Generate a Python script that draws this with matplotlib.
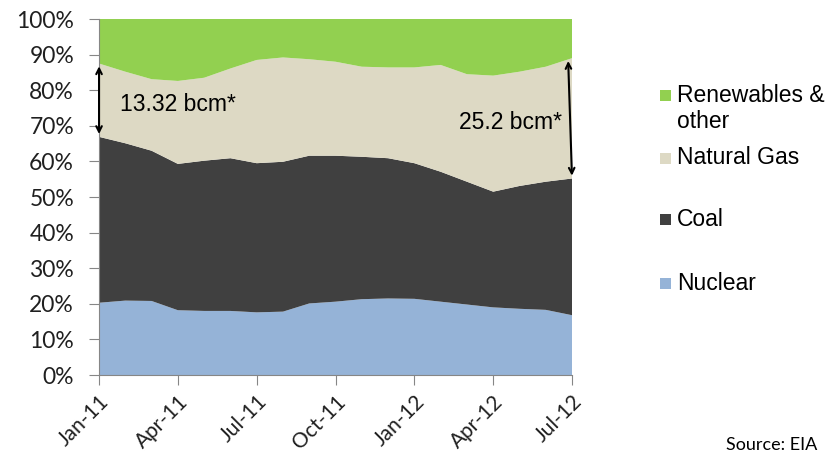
import numpy as np
import matplotlib.pyplot as plt
from matplotlib.patches import Rectangle

# share of generation, Jan-11 .. Jul-12 (monthly), % of total
months = ['Jan-11', 'Feb-11', 'Mar-11', 'Apr-11', 'May-11', 'Jun-11', 'Jul-11',
          'Aug-11', 'Sep-11', 'Oct-11', 'Nov-11', 'Dec-11', 'Jan-12', 'Feb-12',
          'Mar-12', 'Apr-12', 'May-12', 'Jun-12', 'Jul-12']
nuclear = [20.3, 20.9, 20.8, 18.2, 18.0, 18.0, 17.6, 17.8, 20.1, 20.6,
           21.3, 21.5, 21.4, 20.6, 19.8, 19.0, 18.6, 18.3, 16.8]
coal = [46.6, 44.2, 42.2, 41.1, 42.2, 42.9, 41.9, 42.1, 41.5, 41.0,
        40.0, 39.4, 38.1, 36.5, 34.5, 32.5, 34.5, 36.0, 38.4]
gas = [20.6, 20.1, 20.1, 23.3, 23.3, 25.2, 29.0, 29.3, 27.1, 26.4,
       25.3, 25.5, 26.9, 30.0, 30.2, 32.6, 32.1, 32.3, 33.8]
renew = [100 - (n + c + g) for n, c, g in zip(nuclear, coal, gas)]

series = ['Nuclear', 'Coal', 'Natural Gas', 'Renewables &\nother']
colors = ['#95B3D7', '#404040', '#DDD9C4', '#92D050']
tick_idx = [0, 3, 6, 9, 12, 15, 18]

x = np.arange(len(months))

fig = plt.figure(figsize=(8.4, 4.58), dpi=100)
ax = fig.add_axes([0.1179, 0.1812, 0.5631, 0.7773])
ax.stackplot(x, nuclear, coal, gas, renew, colors=colors, linewidth=0)

ax.set_xlim(0, 18)
ax.set_ylim(0, 100)
ax.set_yticks(range(0, 101, 10))
ax.set_yticklabels(['%d%%' % v for v in range(0, 101, 10)], fontsize=16.5, family='Lato')
ax.set_xticks(tick_idx)
ax.set_xticklabels([months[i] for i in tick_idx], rotation=45, ha='right',
                   rotation_mode='anchor', fontsize=15, family='Lato')
for s in ['top', 'right']:
    ax.spines[s].set_visible(False)
for s in ['left', 'bottom']:
    ax.spines[s].set_color('#868686')
ax.tick_params(colors='#868686', labelcolor='#202020', length=7)
ax.tick_params(axis='y', pad=11)
ax.tick_params(axis='x', pad=5)

# gas gap arrows
top0 = nuclear[0] + coal[0] + gas[0]
mid0 = nuclear[0] + coal[0]
top1 = nuclear[-1] + coal[-1] + gas[-1]
mid1 = nuclear[-1] + coal[-1]
ax.annotate('', xy=(0.0, mid0), xytext=(0.0, top0),
            arrowprops=dict(arrowstyle='<->', color='black', lw=1.5), annotation_clip=False)
ax.annotate('', xy=(18.0, mid1), xytext=(17.85, top1),
            arrowprops=dict(arrowstyle='<->', color='black', lw=1.5), annotation_clip=False)
ax.text(0.8, 76, '13.32 bcm*', fontsize=16.5, family='Liberation Sans', va='center')
ax.text(17.6, 71, '25.2 bcm*', fontsize=16.5, family='Liberation Sans', va='center', ha='right')

# legend, drawn by hand like the Excel one (top entry first)
leg_y = [283, 220, 158, 108.5]  # pixel centres from top
for lab, col, yp in zip(series, colors, leg_y):
    yc = 1 - yp / 458
    sq_y = yc if '\n' not in lab else 1 - 95 / 458
    fig.add_artist(Rectangle((660 / 840, sq_y - 5.5 / 458), 11 / 840, 11 / 458,
                             transform=fig.transFigure, color=col, lw=0))
    fig.text(677 / 840, yc, lab, va='center', ha='left', fontsize=16.5,
             family='Liberation Sans', linespacing=1.15)

fig.text(0.973, 0.012, 'Source: EIA', ha='right', va='bottom', fontsize=13, family='Lato')

fig.savefig('out.png', dpi=100)
